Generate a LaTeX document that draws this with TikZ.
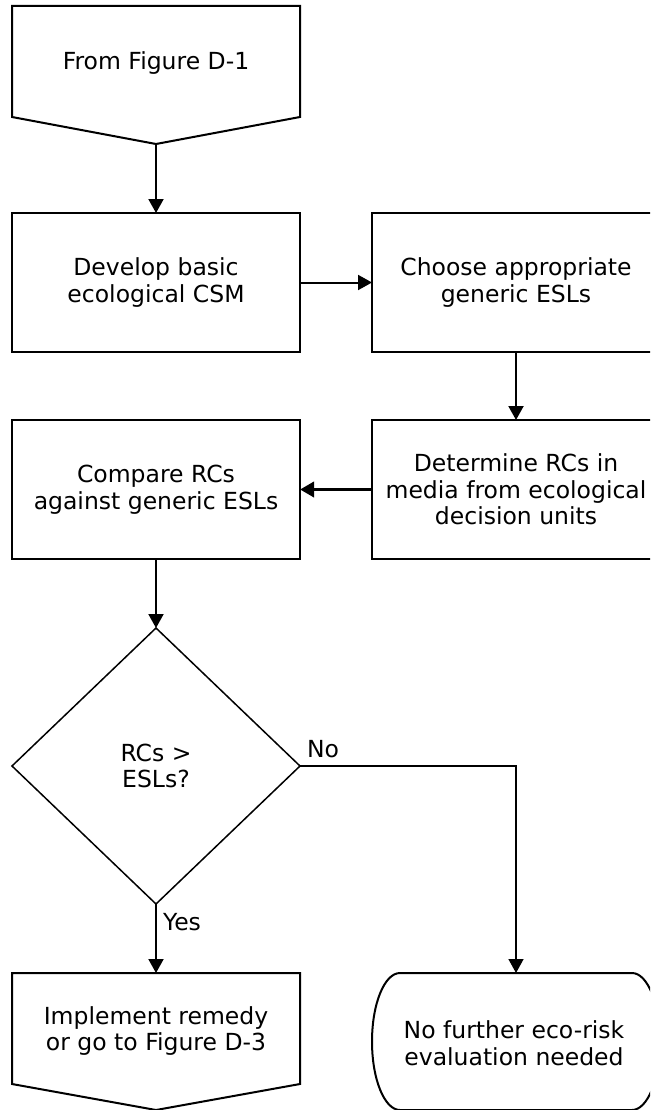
\documentclass[tikz,border=0pt]{standalone}
\usepackage{fontspec}
\setmainfont{DejaVu Sans}
\usetikzlibrary{arrows.meta,shapes.geometric}
\begin{document}
\begin{tikzpicture}[x=1pt,y=-1pt,line width=2pt,
  txt/.style={align=center,font=\fontsize{23.5}{26.5}\selectfont,inner sep=0pt},
  boxs/.style={draw,line width=2pt,minimum width=288pt,minimum height=139pt,outer sep=0pt,
    align=center,font=\fontsize{23.5}{26.5}\selectfont,inner sep=0pt},
  arr/.style={-{Triangle[length=14pt,width=15pt]}},
  thinl/.style={line width=1.5pt}]
\useasboundingbox (0,0) rectangle (650,1110);
\clip (0,0) rectangle (650,1110);
% start off-page connector
\draw (12,6) -- (300,6) -- (300,117) -- (156,144) -- (12,117) -- cycle;
\node[txt] (start) at (156,63) {From Figure D-1};
\coordinate (starttip) at (156,144);
% boxes
\node[boxs] (b1) at (156,282.5) {Develop basic\\ecological CSM};
\node[boxs] (b2) at (516,282.5) {Choose appropriate\\generic ESLs};
\node[boxs] (b3) at (516,489.5) {Determine RCs in\\media from ecological\\decision units};
\node[boxs] (b4) at (156,489.5) {Compare RCs\\against generic ESLs};
% decision
\node[draw,thinl,diamond,minimum width=288pt,minimum height=276pt,inner sep=0pt,outer sep=0pt,
  txt] (dia) at (156,766) {RCs >\\ESLs?};
% bottom off-page connector
\draw (12,973) -- (300,973) -- (300,1084) -- (156,1110) -- (12,1084) -- cycle;
\node[txt] (impl) at (156,1031) {Implement remedy\\or go to Figure D-3};
\coordinate (impltop) at (156,973);
% terminator
\draw (400,973) -- (632,973)
  .. controls (647.5,973) and (660,1003.7) .. (660,1041.5)
  .. controls (660,1079.3) and (647.5,1110) .. (632,1110)
  -- (400,1110)
  .. controls (384.5,1110) and (372,1079.3) .. (372,1041.5)
  .. controls (372,1003.7) and (384.5,973) .. (400,973) -- cycle;
\node[txt] (term) at (514,1043) {No further eco-risk\\evaluation needed};
\coordinate (termtop) at (516,973);
% connectors
\draw[arr] (starttip) -- (b1.north);
\draw[arr] (b1.east) -- (b2.west);
\draw[arr] (b2.south) -- (b3.north);
\draw[arr,line width=3.5pt] (b3.west) -- (b4.east);
\draw[arr] (b4.south) -- (dia.north);
\draw[arr,thinl] (dia.east) -| (termtop);
\draw[arr] (dia.south) -- (impltop);
\node[txt,anchor=base west] (no) at (306,757) {No};
\node[txt,anchor=base west] (yes) at (162,930) {Yes};
\end{tikzpicture}
\end{document}
